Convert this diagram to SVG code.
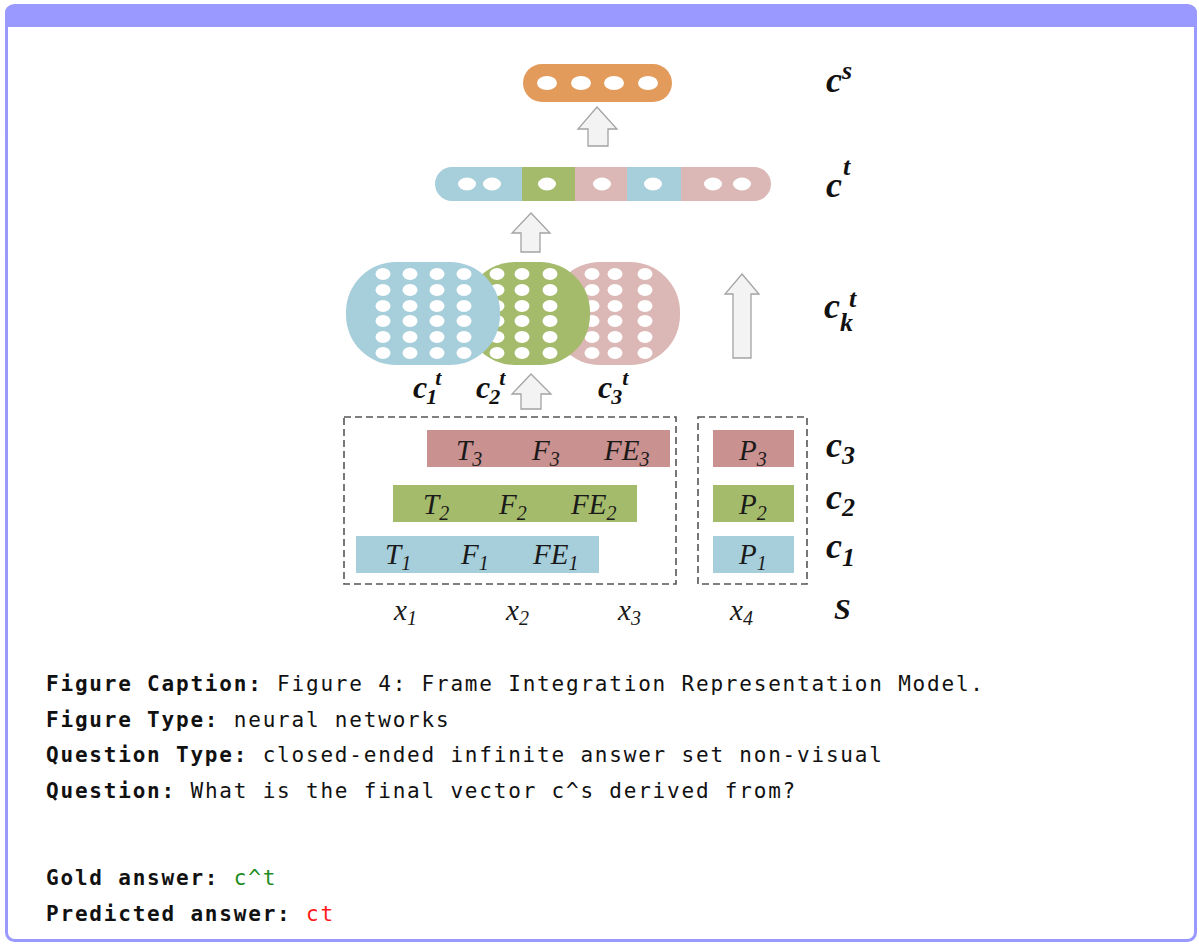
<svg xmlns="http://www.w3.org/2000/svg" width="1199" height="945" viewBox="0 0 1199 945">
<style>
.arrow{fill:#f3f3f3;stroke:#a3a3a3;stroke-width:1.3}
.dot{fill:#ffffff}
.lbl{font-family:"Liberation Serif",serif;font-style:italic;font-weight:bold;fill:#111}
.row{font-family:"Liberation Serif",serif;font-style:italic;font-size:29px;fill:#1a1a1a}
.dash{fill:none;stroke:#555;stroke-width:1.6;stroke-dasharray:7 4}
.txt{font-family:"DejaVu Sans Mono",monospace;font-size:21px;letter-spacing:1.8px;fill:#111}
.b{font-weight:bold}
.blue{fill:#a7cfdb}.green{fill:#a4bb6b}.pink{fill:#dbb7b5}.pinkd{fill:#c9918f}.orange{fill:#e29b5b}
</style>
<defs>
<clipPath id="ctclip"><rect x="435" y="167" width="336" height="34" rx="17"/></clipPath>
</defs>
<!-- frame -->
<rect x="6.5" y="5.5" width="1189" height="935" rx="8" fill="#ffffff" stroke="#9999ff" stroke-width="3"/>
<path d="M5 27 V13 A8 8 0 0 1 13 5 H1189 A8 8 0 0 1 1197 13 V27 Z" fill="#9999ff"/>

<g id="cs">
<rect class="orange" x="523" y="64" width="149" height="38" rx="19"/>
<ellipse class="dot" cx="547" cy="83" rx="10" ry="7"/>
<ellipse class="dot" cx="581" cy="83" rx="10" ry="7"/>
<ellipse class="dot" cx="614" cy="83" rx="10" ry="7"/>
<ellipse class="dot" cx="648" cy="83" rx="10" ry="7"/>
</g>

<g id="ct">
<g clip-path="url(#ctclip)">
<rect class="blue" x="435" y="167" width="87" height="34"/>
<rect class="green" x="522" y="167" width="53" height="34"/>
<rect class="pink" x="575" y="167" width="52" height="34"/>
<rect class="blue" x="627" y="167" width="54" height="34"/>
<rect class="pink" x="681" y="167" width="90" height="34"/>
</g>
<ellipse class="dot" cx="467" cy="184" rx="9" ry="6.5"/>
<ellipse class="dot" cx="492" cy="184" rx="9" ry="6.5"/>
<ellipse class="dot" cx="547" cy="184" rx="9" ry="6.5"/>
<ellipse class="dot" cx="602" cy="184" rx="9" ry="6.5"/>
<ellipse class="dot" cx="653" cy="184" rx="9" ry="6.5"/>
<ellipse class="dot" cx="713" cy="184" rx="9" ry="6.5"/>
<ellipse class="dot" cx="742" cy="184" rx="9" ry="6.5"/>
</g>

<g id="ck3">
<rect class="pink" x="550" y="262" width="130" height="103" rx="50"/>
<g class="dot">
<ellipse cx="592" cy="274" rx="7.5" ry="6"/><ellipse cx="615" cy="274" rx="7.5" ry="6"/><ellipse cx="645" cy="274" rx="7.5" ry="6"/>
<ellipse cx="592" cy="290" rx="7.5" ry="6"/><ellipse cx="615" cy="290" rx="7.5" ry="6"/><ellipse cx="645" cy="290" rx="7.5" ry="6"/>
<ellipse cx="592" cy="306" rx="7.5" ry="6"/><ellipse cx="615" cy="306" rx="7.5" ry="6"/><ellipse cx="645" cy="306" rx="7.5" ry="6"/>
<ellipse cx="592" cy="321" rx="7.5" ry="6"/><ellipse cx="615" cy="321" rx="7.5" ry="6"/><ellipse cx="645" cy="321" rx="7.5" ry="6"/>
<ellipse cx="592" cy="337" rx="7.5" ry="6"/><ellipse cx="615" cy="337" rx="7.5" ry="6"/><ellipse cx="645" cy="337" rx="7.5" ry="6"/>
<ellipse cx="592" cy="353" rx="7.5" ry="6"/><ellipse cx="615" cy="353" rx="7.5" ry="6"/><ellipse cx="645" cy="353" rx="7.5" ry="6"/>
</g>
</g>
<g id="ck2">
<rect class="green" x="465" y="262" width="125" height="103" rx="50"/>
<g class="dot">
<ellipse cx="497" cy="274" rx="7.5" ry="6"/><ellipse cx="522" cy="274" rx="7.5" ry="6"/><ellipse cx="550" cy="274" rx="7.5" ry="6"/>
<ellipse cx="497" cy="290" rx="7.5" ry="6"/><ellipse cx="522" cy="290" rx="7.5" ry="6"/><ellipse cx="550" cy="290" rx="7.5" ry="6"/>
<ellipse cx="497" cy="306" rx="7.5" ry="6"/><ellipse cx="522" cy="306" rx="7.5" ry="6"/><ellipse cx="550" cy="306" rx="7.5" ry="6"/>
<ellipse cx="497" cy="321" rx="7.5" ry="6"/><ellipse cx="522" cy="321" rx="7.5" ry="6"/><ellipse cx="550" cy="321" rx="7.5" ry="6"/>
<ellipse cx="497" cy="337" rx="7.5" ry="6"/><ellipse cx="522" cy="337" rx="7.5" ry="6"/><ellipse cx="550" cy="337" rx="7.5" ry="6"/>
<ellipse cx="497" cy="353" rx="7.5" ry="6"/><ellipse cx="522" cy="353" rx="7.5" ry="6"/><ellipse cx="550" cy="353" rx="7.5" ry="6"/>
</g>
</g>
<g id="ck1">
<rect class="blue" x="346" y="262" width="154" height="103" rx="50"/>
<g class="dot">
<ellipse cx="383" cy="274" rx="7.5" ry="6"/><ellipse cx="410" cy="274" rx="7.5" ry="6"/><ellipse cx="437" cy="274" rx="7.5" ry="6"/><ellipse cx="464" cy="274" rx="7.5" ry="6"/>
<ellipse cx="383" cy="290" rx="7.5" ry="6"/><ellipse cx="410" cy="290" rx="7.5" ry="6"/><ellipse cx="437" cy="290" rx="7.5" ry="6"/><ellipse cx="464" cy="290" rx="7.5" ry="6"/>
<ellipse cx="383" cy="306" rx="7.5" ry="6"/><ellipse cx="410" cy="306" rx="7.5" ry="6"/><ellipse cx="437" cy="306" rx="7.5" ry="6"/><ellipse cx="464" cy="306" rx="7.5" ry="6"/>
<ellipse cx="383" cy="321" rx="7.5" ry="6"/><ellipse cx="410" cy="321" rx="7.5" ry="6"/><ellipse cx="437" cy="321" rx="7.5" ry="6"/><ellipse cx="464" cy="321" rx="7.5" ry="6"/>
<ellipse cx="383" cy="337" rx="7.5" ry="6"/><ellipse cx="410" cy="337" rx="7.5" ry="6"/><ellipse cx="437" cy="337" rx="7.5" ry="6"/><ellipse cx="464" cy="337" rx="7.5" ry="6"/>
<ellipse cx="383" cy="353" rx="7.5" ry="6"/><ellipse cx="410" cy="353" rx="7.5" ry="6"/><ellipse cx="437" cy="353" rx="7.5" ry="6"/><ellipse cx="464" cy="353" rx="7.5" ry="6"/>
</g>
</g>

<g id="connectors">
<path class="arrow" d="M597 107 L617 129 L608 129 L608 146 L588 146 L588 129 L578 129 Z"/>
<path class="arrow" d="M531 213 L550 233 L540 233 L540 252 L521 252 L521 233 L512 233 Z"/>
<path class="arrow" d="M531 374 L551 394 L541 394 L541 409 L521 409 L521 394 L512 394 Z"/>
<path class="arrow" d="M742 274 L759 294 L751 294 L751 358 L733 358 L733 294 L725 294 Z"/>
</g>

<g id="frames-left">
<rect class="dash" x="344" y="417" width="332" height="167"/>
<rect class="pinkd" x="427" y="430" width="243" height="37"/>
<rect class="green" x="393" y="485" width="244" height="37"/>
<rect class="blue" x="356" y="536" width="243" height="37"/>
<text class="row" x="456" y="460">T<tspan font-size="20" dy="6">3</tspan></text>
<text class="row" x="532" y="460">F<tspan font-size="20" dy="6">3</tspan></text>
<text class="row" x="604" y="460">FE<tspan font-size="20" dy="6">3</tspan></text>
<text class="row" x="423" y="514">T<tspan font-size="20" dy="6">2</tspan></text>
<text class="row" x="499" y="514">F<tspan font-size="20" dy="6">2</tspan></text>
<text class="row" x="571" y="514">FE<tspan font-size="20" dy="6">2</tspan></text>
<text class="row" x="385" y="564">T<tspan font-size="20" dy="6">1</tspan></text>
<text class="row" x="461" y="564">F<tspan font-size="20" dy="6">1</tspan></text>
<text class="row" x="533" y="564">FE<tspan font-size="20" dy="6">1</tspan></text>
</g>

<g id="frames-right">
<rect class="dash" x="698" y="417" width="109" height="167"/>
<rect class="pinkd" x="713" y="430" width="81" height="37"/>
<rect class="green" x="713" y="485" width="81" height="37"/>
<rect class="blue" x="713" y="536" width="81" height="37"/>
<text class="row" x="739" y="460">P<tspan font-size="20" dy="6">3</tspan></text>
<text class="row" x="739" y="514">P<tspan font-size="20" dy="6">2</tspan></text>
<text class="row" x="739" y="564">P<tspan font-size="20" dy="6">1</tspan></text>
</g>

<g id="labels">
<text class="lbl" x="826" y="92" font-size="36">c<tspan font-size="26" dy="-13">s</tspan></text>
<text class="lbl" x="826" y="197" font-size="36">c<tspan font-size="26" dx="1" dy="-22">t</tspan></text>
<text class="lbl" x="824" y="318" font-size="36">c<tspan font-size="26" dy="13">k</tspan><tspan font-size="26" dx="-4" dy="-24">t</tspan></text>
<text class="lbl" x="413" y="398" font-size="32">c<tspan font-size="22" dx="-1" dy="6">1</tspan><tspan font-size="22" dx="-2" dy="-19">t</tspan></text>
<text class="lbl" x="476" y="398" font-size="32">c<tspan font-size="22" dx="-1" dy="6">2</tspan><tspan font-size="22" dx="-1" dy="-19">t</tspan></text>
<text class="lbl" x="598" y="398" font-size="32">c<tspan font-size="22" dx="-1" dy="6">3</tspan><tspan font-size="22" dx="0" dy="-19">t</tspan></text>
<text class="lbl" x="826" y="457" font-size="36">c<tspan font-size="26" dy="7">3</tspan></text>
<text class="lbl" x="826" y="509" font-size="36">c<tspan font-size="26" dy="7">2</tspan></text>
<text class="lbl" x="826" y="558" font-size="36">c<tspan font-size="26" dy="8">1</tspan></text>
<text class="lbl" x="834" y="619" font-size="30">S</text>
<text class="row" x="394" y="620">x<tspan font-size="20" dy="5">1</tspan></text>
<text class="row" x="506" y="620">x<tspan font-size="20" dy="5">2</tspan></text>
<text class="row" x="618" y="620">x<tspan font-size="20" dy="5">3</tspan></text>
<text class="row" x="730" y="620">x<tspan font-size="20" dy="5">4</tspan></text>
</g>

<g id="caption">
<text class="txt" x="46" y="691"><tspan class="b">Figure Caption:</tspan> Figure 4: Frame Integration Representation Model.</text>
<text class="txt" x="46" y="727"><tspan class="b">Figure Type:</tspan> neural networks</text>
<text class="txt" x="46" y="762"><tspan class="b">Question Type:</tspan> closed-ended infinite answer set non-visual</text>
<text class="txt" x="46" y="798"><tspan class="b">Question:</tspan> What is the final vector c^s derived from?</text>
<text class="txt" x="46" y="885"><tspan class="b">Gold answer:</tspan> <tspan fill="#1e8c1e">c^t</tspan></text>
<text class="txt" x="46" y="921"><tspan class="b">Predicted answer:</tspan> <tspan fill="#ff1a1a">ct</tspan></text>
</g>
</svg>
